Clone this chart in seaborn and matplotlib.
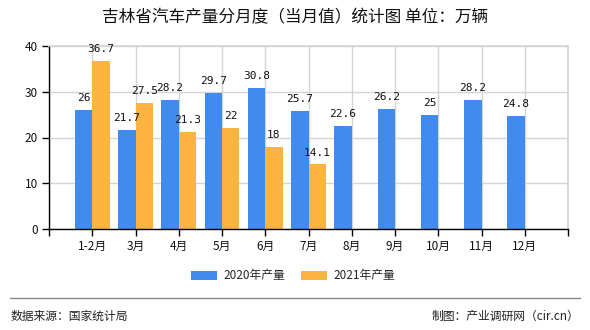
import numpy as np
import pandas as pd
import matplotlib
matplotlib.use("Agg")
import matplotlib.pyplot as plt
import seaborn as sns
from matplotlib.patches import Patch

months = ["1-2月", "3月", "4月", "5月", "6月", "7月", "8月", "9月", "10月", "11月", "12月"]
prod_2020 = [26, 21.7, 28.2, 29.7, 30.8, 25.7, 22.6, 26.2, 25, 28.2, 24.8]
prod_2021 = [36.7, 27.5, 21.3, 22, 18, 14.1, None, None, None, None, None]
series_names = ["2020年产量", "2021年产量"]
colors = ["#418bee", "#fdb342"]
title = "吉林省汽车产量分月度（当月值）统计图 单位：万辆"
source = "数据来源：国家统计局"
credit = "制图：产业调研网（cir.cn）"

sns.set_theme(style="white")
plt.rcParams["font.family"] = ["Noto Sans CJK SC", "DejaVu Sans"]

rows = []
for m, a, b in zip(months, prod_2020, prod_2021):
    rows.append({"月份": m, "系列": series_names[0], "产量": a})
    rows.append({"月份": m, "系列": series_names[1], "产量": b})
df = pd.DataFrame(rows)

fig = plt.figure(figsize=(5.9, 3.3), dpi=100)
ax = fig.add_axes([49/590, 1 - 229/330, (568 - 49)/590, (229 - 46)/330])

sns.barplot(data=df, x="月份", y="产量", hue="系列", palette=colors,
            order=months, hue_order=series_names, width=0.8, saturation=1,
            linewidth=0, edgecolor="none", ax=ax, legend=False)

for cont in ax.containers:
    labels = []
    for bar in cont:
        h = bar.get_height()
        if np.isnan(h) or h == 0:
            labels.append("")
        else:
            labels.append(f"{h:g}")
    ax.bar_label(cont, labels=labels, padding=5, fontsize=8,
                 family=["DejaVu Sans Mono"], color="#111111")

ax.set_xlim(-1, len(months))
ax.set_ylim(0, 40)
ax.set_yticks([0, 10, 20, 30, 40])
ax.set_xticks(range(-1, len(months) + 1))
ax.set_xticklabels([""] + months + [""])
ax.set_xlabel("")
ax.set_ylabel("")
ax.grid(True, color="#d4d4d4", linewidth=1)
ax.set_axisbelow(True)
for s in ["top", "right"]:
    ax.spines[s].set_color("#d4d4d4")
for s in ["left", "bottom"]:
    ax.spines[s].set_color("black")
    ax.spines[s].set_linewidth(1)
ax.tick_params(axis="both", length=5, width=1, color="black", labelsize=8.5,
               labelcolor="#111111", pad=3)
ax.tick_params(axis="x", direction="out", bottom=True)
ax.tick_params(axis="y", direction="out", left=True)

fig.text(295/590, 1 - 18/330, title, ha="center", va="center", fontsize=12,
         color="#111111")

handles = [Patch(facecolor=c, edgecolor="none") for c in colors]
fig.legend(handles, series_names, loc="center", bbox_to_anchor=(293/590, 1 - 276/330),
           ncol=2, frameon=False, fontsize=8.5, handlelength=2.2, handleheight=0.8,
           columnspacing=1.4, handletextpad=0.5)

fig.add_artist(plt.Line2D([10/590, 580/590], [1 - 298/330, 1 - 298/330],
                          color="#888888", linewidth=1))
fig.text(11/590, 1 - 316/330, source, ha="left", va="center", fontsize=8.5,
         color="#222222")
fig.text(579/590, 1 - 316/330, credit, ha="right", va="center", fontsize=8.5,
         color="#222222")

fig.savefig("out.png", dpi=100)
